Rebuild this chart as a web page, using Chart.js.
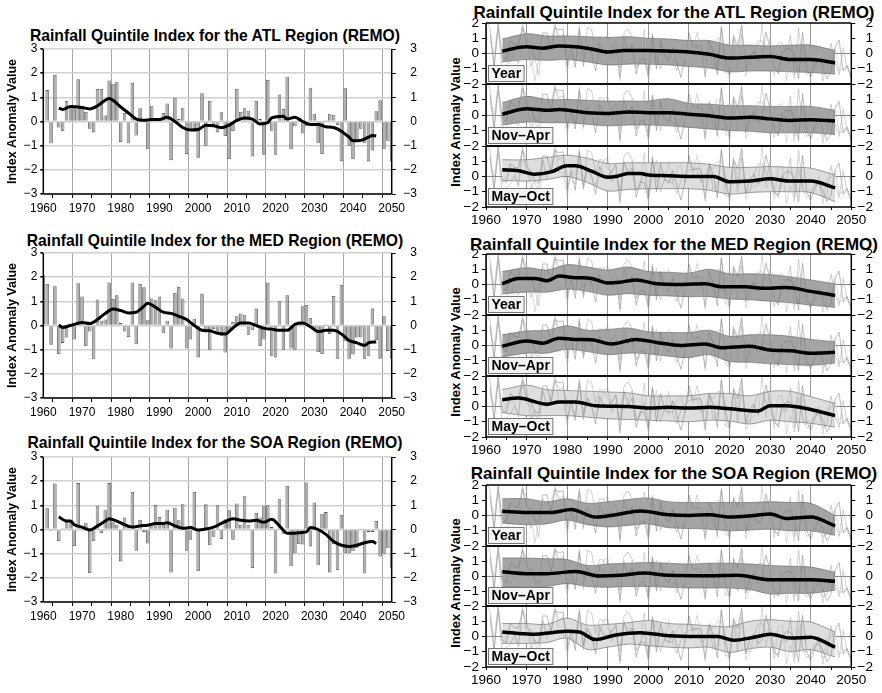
<!DOCTYPE html>
<html>
<head>
<meta charset="utf-8">
<script src="https://cdn.jsdelivr.net/npm/chart.js@4.4.1/dist/chart.umd.min.js"></script>
<style>
    body { margin: 0; background: #fff; width: 882px; height: 693px; position: relative; overflow: hidden;
           font-family: "Liberation Sans", Arial, Helvetica, sans-serif; }
    .box { position: absolute; }
    .box canvas { display: block; }
    .title { position: absolute; font-weight: bold; text-align: center; white-space: nowrap; color: #000; line-height: 1; }
    .ytitle { position: absolute; font-weight: bold; font-size: 13px; white-space: nowrap; color: #000; line-height: 1;
              transform: translate(-50%, -50%) rotate(-90deg); }
</style>
</head>
<body>
<div class="title" style="left:0;width:430px;top:28px;font-size:15.7px">Rainfall Quintile Index for the ATL Region (REMO)</div>
<div class="title" style="left:0;width:430px;top:233px;font-size:15.7px">Rainfall Quintile Index for the MED Region (REMO)</div>
<div class="title" style="left:0;width:430px;top:435px;font-size:15.7px">Rainfall Quintile Index for the SOA Region (REMO)</div>
<div class="title" style="left:440px;width:468px;top:4px;font-size:17px">Rainfall Quintile Index for the ATL Region (REMO)</div>
<div class="title" style="left:440px;width:468px;top:236px;font-size:17px">Rainfall Quintile Index for the MED Region (REMO)</div>
<div class="title" style="left:440px;width:468px;top:465px;font-size:17px">Rainfall Quintile Index for the SOA Region (REMO)</div>
<div class="ytitle" style="left:455px;top:122px">Index Anomaly Value</div>
<div class="ytitle" style="left:455px;top:352px">Index Anomaly Value</div>
<div class="ytitle" style="left:455px;top:583px">Index Anomaly Value</div>
<script>
// Annual index values (bars), one value per year
const atlStart = 1961;
const atlBars = [1.3, -0.9, 1.93, -0.25, -0.4, 0.85, 0.6, 0.55, 1.75, 0.6,
    0.4, -0.3, -0.45, 1.35, 1.35, 0.25, 1.7, 1.55, 1.62, -0.85,
    0.35, -0.9, 1.6, -0.58, 0.55, 0.05, -1.15, 0.65, 0.1, 0.05,
    0.35, 0.75, -1.6, 0.98, 0.1, 0.57, -1.35, -0.35, -0.4, -1.5,
    1.17, -1.0, 0.85, -0.2, -0.45, 0.38, -0.6, -1.55, -0.4, 1.35,
    0.4, 0.55, 0.45, -1.45, 0.85, 0.1, -1.38, 1.72, -0.38, -1.38,
    1.12, 0.52, 1.85, -1.15, -0.2, 0.15, -0.5, -0.2, 1.4, 0.32,
    -0.9, -1.35, 0.05, 0.32, 0.28, -0.15, -1.65, 1.38, -1.0, -1.55,
    -0.8, -0.3, -0.9, -1.65, -1.2, 0.42, 0.88, -1.15, -0.8, -1.65];

const medStart = 1960;
const medBars = [2.08, 1.72, -0.8, 1.62, -1.18, -0.72, -0.5, 0.05, -0.58, 1.75,
    1.2, -0.85, -0.25, -1.4, 1.08, 0.2, 0.25, 1.78, 1.1, 1.25,
    0.1, -0.25, -0.48, 1.78, -0.78, 1.72, 1.58, 0.22, 1.12, 1.05,
    1.2, -0.32, 0.2, -0.95, 1.35, 1.6, 1.12, -0.95, -0.58, 0.28,
    -1.32, 1.32, -0.25, -1.0, -0.15, -0.3, -0.42, -1.12, -0.25, 0.15,
    0.38, 0.5, 0.45, -0.38, -0.2, 0.7, -0.85, -0.58, 1.78, -1.25,
    -1.32, 1.0, -1.0, 1.25, -0.95, -1.0, 0.05, 0.8, 0.85, 0.32,
    -0.2, -1.1, -1.18, 0.05, -0.35, 1.22, -1.38, 1.68, -0.65, -1.38,
    -1.2, -0.5, -0.5, -1.38, -1.25, 0.7, -0.6, -1.38, 0.38, -1.05, -1.38];

const soaStart = 1961;
const soaBars = [0.88, -0.05, 1.9, -0.48, 0.05, 0.3, 0.3, -0.68, 1.92, 0.15,
    0.28, -1.8, -0.48, 0.98, -0.15, 0.8, 1.92, 0.3, 0.2, -1.32,
    0.5, 0.1, 1.55, -0.88, 0.4, -0.1, -0.58, 0.2, 1.02, 0.52,
    0.2, 0.82, -1.78, 0.9, 0.38, 1.05, -0.88, -0.42, 1.55, -1.72,
    0.05, 1.05, -0.65, -0.3, 1.0, -0.4, 0.42, 0.8, -0.42, 1.08,
    0.2, 1.38, 0.2, -1.6, 0.68, 0.5, 0.98, 1.0, 0.1, -1.82,
    1.25, -0.2, 1.8, -1.52, -0.98, -0.6, -0.62, 1.95, -0.7, 1.12,
    -1.48, 0.65, 0.72, -1.78, -0.6, -1.68, 0.6, -0.98, -0.98, -0.9,
    -0.78, 0.02, -1.82, -0.1, -0.1, 0.35, -1.12, -1.0, -0.78, -1.6];

// Smoothed curves of the left panels
const atlTrendYears = [1964, 1965, 1967, 1970, 1972, 1974, 1976, 1977, 1978, 1980, 1982, 1984, 1986, 1988, 1990,
    1992, 1994, 1996, 1998, 2000, 2002, 2004, 2006, 2008, 2010, 2012, 2014, 2016, 2018, 2019,
    2022, 2023, 2025, 2027, 2029, 2031, 2033, 2035, 2037, 2039, 2040, 2042, 2044, 2045, 2046];
const atlTrend = [0.55, 0.5, 0.62, 0.58, 0.52, 0.65, 0.88, 0.95, 0.88, 0.6, 0.35, 0.1, 0.05, 0.08, 0.08,
    0.18, 0.0, -0.25, -0.35, -0.33, -0.15, -0.18, -0.25, -0.15, 0.05, 0.15, 0.1, -0.1, -0.05, 0.15,
    0.22, 0.1, 0.18, 0.0, -0.12, -0.12, -0.22, -0.25, -0.4, -0.65, -0.8, -0.78, -0.65, -0.58, -0.6];

const medTrendYears = [1964, 1965, 1967, 1970, 1972, 1974, 1976, 1978, 1980, 1982, 1984, 1986, 1987, 1989, 1991,
    1993, 1995, 1997, 1999, 2001, 2003, 2005, 2007, 2009, 2011, 2013, 2015, 2017, 2019, 2021,
    2023, 2025, 2027, 2029, 2031, 2033, 2035, 2037, 2039, 2041, 2043, 2044, 2046];
const medTrend = [0.02, -0.08, 0.0, 0.12, 0.08, 0.25, 0.5, 0.68, 0.62, 0.52, 0.55, 0.8, 0.92, 0.75, 0.55,
    0.5, 0.38, 0.25, 0.0, -0.2, -0.22, -0.32, -0.35, -0.1, 0.1, 0.1, 0.0, -0.12, -0.15, -0.2,
    -0.2, 0.05, 0.1, -0.05, -0.25, -0.2, -0.2, -0.35, -0.62, -0.72, -0.82, -0.72, -0.68];

const soaTrendYears = [1964, 1966, 1967, 1968, 1970, 1972, 1974, 1976, 1977, 1979, 1981, 1983, 1985, 1987, 1989,
    1991, 1992, 1994, 1996, 1998, 2000, 2002, 2004, 2006, 2008, 2009, 2011, 2013, 2015, 2017,
    2019, 2021, 2023, 2025, 2027, 2028, 2029, 2031, 2033, 2035, 2037, 2039, 2041, 2043, 2045, 2046];
const soaTrend = [0.52, 0.35, 0.35, 0.2, 0.1, -0.02, 0.15, 0.35, 0.45, 0.35, 0.2, 0.1, 0.15, 0.18, 0.25,
    0.25, 0.28, 0.15, 0.05, 0.08, -0.02, 0.02, 0.1, 0.25, 0.4, 0.45, 0.38, 0.35, 0.38, 0.3,
    0.42, 0.15, -0.15, -0.15, -0.12, -0.1, 0.08, 0.0, -0.2, -0.5, -0.65, -0.7, -0.65, -0.55, -0.5, -0.58];

// Ensemble spread (right panels), read at these years
const bandYears = [1964, 1970, 1975, 1980, 1985, 1990, 1995, 2000, 2005, 2010, 2015, 2020, 2025, 2030, 2035, 2040, 2046];

const atlYearUpper = [0.95, 1.3, 1.15, 1.15, 1.1, 1.05, 1.1, 1.0, 0.95, 0.85, 0.85, 0.55, 0.55, 0.5, 0.55, 0.55, 0.2];
const atlYearLower = [-0.55, -0.4, -0.45, -0.4, -0.55, -0.75, -0.7, -0.7, -0.75, -0.85, -0.95, -1.2, -1.15, -1.15, -1.2, -1.25, -1.35];
const atlWinterUpper = [0.8, 1.2, 1.0, 1.0, 0.95, 0.9, 0.9, 0.9, 1.05, 0.75, 0.7, 0.6, 0.6, 0.55, 0.55, 0.55, 0.3];
const atlWinterLower = [-0.65, -0.45, -0.5, -0.5, -0.6, -0.7, -0.65, -0.65, -0.7, -0.8, -0.9, -1.0, -1.05, -1.15, -1.15, -1.15, -1.25];
const atlSummerUpper = [1.1, 1.1, 1.25, 1.4, 1.2, 0.85, 0.9, 0.9, 0.9, 0.9, 0.8, 0.6, 0.6, 0.65, 0.6, 0.55, 0.1];
const atlSummerLower = [-0.25, -0.3, -0.2, 0.0, -0.4, -0.95, -0.85, -0.8, -0.8, -0.8, -0.9, -1.15, -1.05, -1.0, -1.0, -1.05, -1.65];

const medYearUpper = [0.85, 1.1, 0.95, 1.3, 1.15, 0.95, 1.15, 0.85, 0.8, 0.75, 1.0, 0.7, 0.7, 0.65, 0.5, 0.3, 0.05];
const medYearLower = [-0.6, -0.5, -0.5, -0.3, -0.45, -0.7, -0.6, -0.7, -0.75, -0.8, -0.8, -0.95, -1.0, -1.1, -1.2, -1.35, -1.5];
const medWinterUpper = [0.7, 0.95, 1.0, 1.3, 1.0, 1.05, 1.15, 0.9, 0.85, 0.85, 1.0, 0.6, 0.7, 0.7, 0.6, 0.4, 0.25];
const medWinterLower = [-0.75, -0.5, -0.5, -0.25, -0.4, -0.6, -0.5, -0.55, -0.7, -0.8, -0.6, -1.05, -1.1, -1.2, -1.25, -1.3, -1.15];
const medSummerUpper = [1.1, 1.4, 1.1, 1.05, 1.0, 0.95, 0.9, 0.7, 0.7, 0.7, 0.85, 0.85, 0.7, 1.0, 1.0, 0.65, 0.2];
const medSummerLower = [-0.4, -0.6, -0.6, -0.6, -0.7, -0.8, -0.85, -0.9, -0.95, -1.0, -0.9, -0.95, -1.15, -0.9, -1.0, -1.1, -1.35];

const soaYearUpper = [1.1, 1.1, 0.9, 1.1, 0.8, 0.9, 1.05, 1.15, 0.9, 0.85, 0.85, 0.85, 0.85, 0.9, 0.85, 0.8, 0.0];
const soaYearLower = [-0.5, -0.6, -0.55, -0.3, -0.6, -0.75, -0.65, -0.55, -0.8, -0.85, -0.9, -1.0, -0.95, -0.9, -1.0, -1.0, -1.3];
const soaWinterUpper = [1.2, 1.2, 1.15, 1.1, 0.7, 0.8, 0.85, 0.9, 0.85, 0.8, 0.85, 0.85, 0.8, 0.7, 0.65, 0.6, 0.25];
const soaWinterLower = [-0.7, -0.75, -0.7, -0.5, -0.7, -0.75, -0.7, -0.7, -0.75, -0.8, -0.8, -0.8, -0.9, -1.2, -1.15, -1.15, -0.95];
const soaSummerUpper = [0.85, 0.85, 0.8, 1.2, 0.75, 0.8, 0.9, 1.05, 0.85, 0.8, 0.7, 0.65, 1.0, 1.1, 1.0, 0.95, 0.3];
const soaSummerLower = [-0.45, -0.45, -0.4, -0.1, -0.85, -0.7, -0.5, -0.6, -0.7, -0.75, -0.7, -1.05, -0.8, -0.7, -1.0, -0.85, -1.35];

// Ensemble mean (thick line of the right panels)
const atlYearMeanX = [1964, 1968, 1970, 1974, 1978, 1982, 1986, 1990, 1994, 2000, 2006, 2010, 2015, 2020, 2025, 2030, 2035, 2040, 2046];
const atlYearMean = [0.15, 0.4, 0.45, 0.35, 0.5, 0.45, 0.3, 0.1, 0.2, 0.2, 0.15, 0.1, -0.05, -0.3, -0.25, -0.2, -0.4, -0.4, -0.6];
const atlWinterMeanX = [1964, 1970, 1975, 1978, 1985, 1990, 1995, 2000, 2005, 2010, 2015, 2020, 2025, 2030, 2035, 2040, 2046];
const atlWinterMean = [0.05, 0.4, 0.3, 0.35, 0.15, 0.1, 0.2, 0.15, 0.15, 0.05, -0.05, -0.2, -0.15, -0.25, -0.35, -0.3, -0.38];
const atlSummerMeanX = [1964, 1968, 1972, 1976, 1980, 1982, 1986, 1990, 1992, 1995, 1998, 2000, 2005, 2010, 2016, 2020, 2025, 2030, 2035, 2040, 2046];
const atlSummerMean = [0.45, 0.38, 0.15, 0.3, 0.7, 0.7, 0.35, -0.05, 0.0, 0.2, 0.2, 0.1, 0.05, 0.0, 0.0, -0.35, -0.3, -0.15, -0.3, -0.3, -0.75];

const medYearMeanX = [1964, 1968, 1972, 1975, 1978, 1982, 1986, 1990, 1993, 1997, 2002, 2008, 2014, 2018, 2024, 2028, 2034, 2040, 2046];
const medYearMean = [0.05, 0.4, 0.4, 0.25, 0.55, 0.45, 0.4, 0.1, 0.15, 0.3, 0.05, 0.0, 0.05, -0.15, -0.15, -0.25, -0.2, -0.45, -0.72];
const medWinterMeanX = [1964, 1970, 1974, 1978, 1982, 1986, 1991, 1997, 2002, 2008, 2014, 2018, 2025, 2030, 2035, 2040, 2046];
const medWinterMean = [-0.05, 0.3, 0.15, 0.48, 0.4, 0.38, 0.1, 0.4, 0.2, 0.0, 0.1, -0.15, -0.05, -0.3, -0.35, -0.5, -0.45];
const medSummerMeanX = [1964, 1968, 1975, 1978, 1982, 1987, 1995, 2000, 2005, 2010, 2015, 2020, 2027, 2030, 2034, 2040, 2046];
const medSummerMean = [0.45, 0.55, 0.15, 0.3, 0.3, 0.05, 0.0, -0.1, -0.05, -0.1, -0.05, -0.15, -0.3, 0.05, 0.05, -0.2, -0.6];

const soaYearMeanX = [1964, 1970, 1976, 1981, 1987, 1992, 1998, 2005, 2010, 2015, 2020, 2026, 2030, 2034, 2040, 2046];
const soaYearMean = [0.28, 0.2, 0.2, 0.4, -0.1, 0.05, 0.3, 0.05, 0.0, 0.05, -0.1, 0.0, 0.1, -0.2, -0.1, -0.68];
const soaWinterMeanX = [1964, 1970, 1975, 1982, 1988, 1993, 1999, 2005, 2015, 2022, 2030, 2040, 2046];
const soaWinterMean = [0.28, 0.15, 0.15, 0.3, 0.0, 0.05, 0.2, 0.05, 0.02, 0.05, -0.25, -0.25, -0.35];
const soaSummerMeanX = [1964, 1968, 1972, 1976, 1980, 1983, 1987, 1992, 1998, 2005, 2012, 2017, 2021, 2026, 2030, 2035, 2040, 2046];
const soaSummerMean = [0.3, 0.2, 0.15, 0.25, 0.35, 0.3, -0.2, 0.1, 0.25, 0.05, 0.0, 0.0, -0.25, -0.05, 0.15, -0.1, -0.05, -0.7];

const seasonLabels = ['Year', 'Nov\u2013Apr', 'May\u2013Oct'];

document.addEventListener('DOMContentLoaded', () => {

    Chart.defaults.font.family = '"Liberation Sans", Arial, Helvetica, sans-serif';
    Chart.defaults.color = '#000';

    // room left above/below the plot area (more than the y-scale label padding)
    const PAD = 12;

    const minus = v => String(v).replace('-', '\u2212');
    const series = (start, values) => values.map((v, i) => ({ x: start + i, y: v }));
    const pairs = (xs, ys) => xs.map((x, i) => ({ x: x, y: ys[i] }));

    // Frame around the plot area, plus the boxed season label
    const framePlugin = {
        id: 'frame',
        afterDraw(chart, args, opts) {
            const { ctx, chartArea: a } = chart;
            ctx.save();
            ctx.strokeStyle = '#000';
            ctx.lineWidth = 1.5;
            ctx.beginPath();
            if (opts.top) { ctx.moveTo(a.left, a.top); ctx.lineTo(a.right, a.top); }
            ctx.moveTo(a.left, a.top); ctx.lineTo(a.left, a.bottom);
            ctx.moveTo(a.right, a.top); ctx.lineTo(a.right, a.bottom);
            ctx.moveTo(a.left, a.bottom); ctx.lineTo(a.right, a.bottom);
            ctx.stroke();
            if (opts.label) {
                ctx.font = 'bold 14px "Liberation Sans", Arial, sans-serif';
                const w = ctx.measureText(opts.label).width + 6;
                const h = 16;
                const x = a.left + 2.5, y = a.bottom - h - 2.5;
                ctx.fillStyle = '#f4f4f4';
                ctx.fillRect(x, y, w, h);
                ctx.strokeStyle = '#777';
                ctx.lineWidth = 1;
                ctx.strokeRect(x, y, w, h);
                ctx.fillStyle = '#000';
                ctx.textBaseline = 'middle';
                ctx.fillText(opts.label, x + 3, y + h / 2 + 1);
            }
            ctx.restore();
        }
    };

    function makeCanvas(left, top, width, height) {
        const div = document.createElement('div');
        div.className = 'box';
        div.style.left = left + 'px';
        div.style.top = top + 'px';
        const canvas = document.createElement('canvas');
        canvas.width = width;
        canvas.height = height;
        div.appendChild(canvas);
        document.body.appendChild(div);
        return canvas;
    }

    // Left column: bars with the smoothed curve
    function renderBarChart(areaTop, bars, start, trendX, trend) {
        const canvas = makeCanvas(0, areaTop - PAD, 417, PAD + 145 + 24);
        new Chart(canvas, {
            type: 'bar',
            data: {
                datasets: [{
                    type: 'line',
                    data: pairs(trendX, trend),
                    borderColor: '#000',
                    borderWidth: 3,
                    pointRadius: 0,
                    cubicInterpolationMode: 'monotone',
                    order: 0
                }, {
                    type: 'bar',
                    data: series(start, bars),
                    backgroundColor: '#adadad',
                    borderColor: '#555',
                    borderWidth: 0.8,
                    barPercentage: 1,
                    categoryPercentage: 0.9,
                    order: 1
                }]
            },
            options: {
                responsive: false,
                animation: false,
                layout: { padding: { top: PAD, bottom: 0, left: 0, right: 0 } },
                plugins: { legend: { display: false }, tooltip: { enabled: false }, frame: { top: false } },
                scales: {
                    x: {
                        type: 'linear', min: 1960, max: 2050, offset: false,
                        afterFit: s => { s.height = 24; },
                        ticks: { stepSize: 5, autoSkip: false, maxRotation: 0, font: { size: 12 }, padding: 3,
                                 callback: v => (v % 10 === 0 ? String(v) : '') },
                        grid: { color: c => (c.tick && c.tick.value % 10 === 0 ? '#a8a8a8' : 'transparent'),
                                tickColor: '#000', tickLength: 4, lineWidth: 1 },
                        border: { display: false }
                    },
                    y: {
                        position: 'left', min: -3, max: 3,
                        afterFit: s => { s.width = 43.3; },
                        ticks: { stepSize: 1, autoSkip: false, font: { size: 12 }, padding: 3, callback: minus },
                        grid: { color: '#d0d0d0', lineWidth: 1.6, tickColor: '#000', tickLength: 3 },
                        border: { display: false },
                        title: { display: true, text: 'Index Anomaly Value', font: { size: 12.5, weight: 'bold' },
                                 padding: { top: 5, bottom: 0 } }
                    },
                    y2: {
                        position: 'right', min: -3, max: 3,
                        afterFit: s => { s.width = 25.3; },
                        ticks: { stepSize: 1, autoSkip: false, font: { size: 12 }, padding: 4, crossAlign: 'far', callback: minus },
                        grid: { drawOnChartArea: false, tickColor: '#000', tickLength: 4 },
                        border: { display: false }
                    }
                }
            },
            plugins: [framePlugin]
        });
    }

    // Right column: one season of the ensemble
    function renderSeasonChart(areaTop, areaH, k, upper, lower, meanX, mean) {
        const isBottom = k === 2;
        const bottomSpace = isBottom ? 24 : PAD;
        const canvas = makeCanvas(430, areaTop - PAD, 443, PAD + areaH + bottomSpace);
        const light = k === 2;
        const yLabel = v => (k > 0 && v === 2 ? '' : minus(v));
        new Chart(canvas, {
            type: 'line',
            data: {
                datasets: [{
                    data: pairs(bandYears, upper),
                    borderColor: '#606060',
                    borderWidth: 0.6,
                    backgroundColor: light ? '#dedede' : '#a4a4a4',
                    fill: '+1',
                    pointRadius: 0,
                    tension: 0.3,
                    order: 6
                }, {
                    data: pairs(bandYears, lower),
                    borderColor: '#606060',
                    borderWidth: 0.6,
                    fill: false,
                    pointRadius: 0,
                    tension: 0.3,
                    order: 5
                }, {
                    data: series(atlStart, atlBars),
                    borderColor: 'rgba(110,110,110,0.75)',
                    borderWidth: 0.6,
                    pointRadius: 0,
                    fill: false,
                    order: 4
                }, {
                    data: series(medStart, medBars),
                    borderColor: 'rgba(150,150,150,0.75)',
                    borderWidth: 0.6,
                    pointRadius: 0,
                    fill: false,
                    order: 3
                }, {
                    data: series(soaStart, soaBars),
                    borderColor: 'rgba(175,175,175,0.8)',
                    borderWidth: 0.6,
                    pointRadius: 0,
                    fill: false,
                    order: 2
                }, {
                    data: pairs(meanX, mean),
                    borderColor: '#000',
                    borderWidth: 3.5,
                    pointRadius: 0,
                    cubicInterpolationMode: 'monotone',
                    fill: false,
                    order: 0
                }]
            },
            options: {
                responsive: false,
                animation: false,
                layout: { padding: { top: PAD, bottom: isBottom ? 0 : PAD, left: 0, right: 0 } },
                plugins: { legend: { display: false }, tooltip: { enabled: false },
                           frame: { top: true, label: seasonLabels[k] } },
                scales: {
                    x: {
                        type: 'linear', min: 1960, max: 2050,
                        afterFit: s => { s.height = isBottom ? 24 : 0; },
                        ticks: { display: isBottom, stepSize: 5, autoSkip: false, maxRotation: 0,
                                 font: { size: 13.5 }, padding: 2,
                                 callback: v => (v % 10 === 0 ? String(v) : '') },
                        grid: { color: c => (c.tick && c.tick.value % 10 === 0 ? '#9a9a9a' : 'transparent'),
                                drawTicks: isBottom, tickColor: '#000', tickLength: 3, lineWidth: 1 },
                        border: { display: false }
                    },
                    y: {
                        position: 'left', min: -2, max: 2,
                        afterFit: s => { s.width = 56; },
                        ticks: { stepSize: 1, autoSkip: false, font: { size: 13.5 }, padding: 3, callback: yLabel },
                        grid: { color: c => (c.tick && c.tick.value === 0 ? '#8a8a8a' : 'transparent'),
                                tickColor: '#000', tickLength: 4 },
                        border: { display: false }
                    },
                    y2: {
                        position: 'right', min: -2, max: 2,
                        afterFit: s => { s.width = 21.7; },
                        ticks: { stepSize: 1, autoSkip: false, font: { size: 13.5 }, padding: 3, crossAlign: 'far',
                                 callback: yLabel },
                        grid: { drawOnChartArea: false, tickColor: '#000', tickLength: 4 },
                        border: { display: false }
                    }
                }
            },
            plugins: [framePlugin]
        });
    }

    function renderRegion(top, height, sets) {
        for (let k = 0; k < 3; k++) {
            const t = top + Math.round(k * height / 3);
            const b = top + Math.round((k + 1) * height / 3);
            const s = sets[k];
            renderSeasonChart(t, b - t, k, s[0], s[1], s[2], s[3]);
        }
    }

    renderBarChart(49, atlBars, atlStart, atlTrendYears, atlTrend);
    renderBarChart(253, medBars, medStart, medTrendYears, medTrend);
    renderBarChart(457, soaBars, soaStart, soaTrendYears, soaTrend);

    renderRegion(23, 184, [
        [atlYearUpper, atlYearLower, atlYearMeanX, atlYearMean],
        [atlWinterUpper, atlWinterLower, atlWinterMeanX, atlWinterMean],
        [atlSummerUpper, atlSummerLower, atlSummerMeanX, atlSummerMean]
    ]);
    renderRegion(254, 183, [
        [medYearUpper, medYearLower, medYearMeanX, medYearMean],
        [medWinterUpper, medWinterLower, medWinterMeanX, medWinterMean],
        [medSummerUpper, medSummerLower, medSummerMeanX, medSummerMean]
    ]);
    renderRegion(485, 182, [
        [soaYearUpper, soaYearLower, soaYearMeanX, soaYearMean],
        [soaWinterUpper, soaWinterLower, soaWinterMeanX, soaWinterMean],
        [soaSummerUpper, soaSummerLower, soaSummerMeanX, soaSummerMean]
    ]);
});
</script>
</body>
</html>
